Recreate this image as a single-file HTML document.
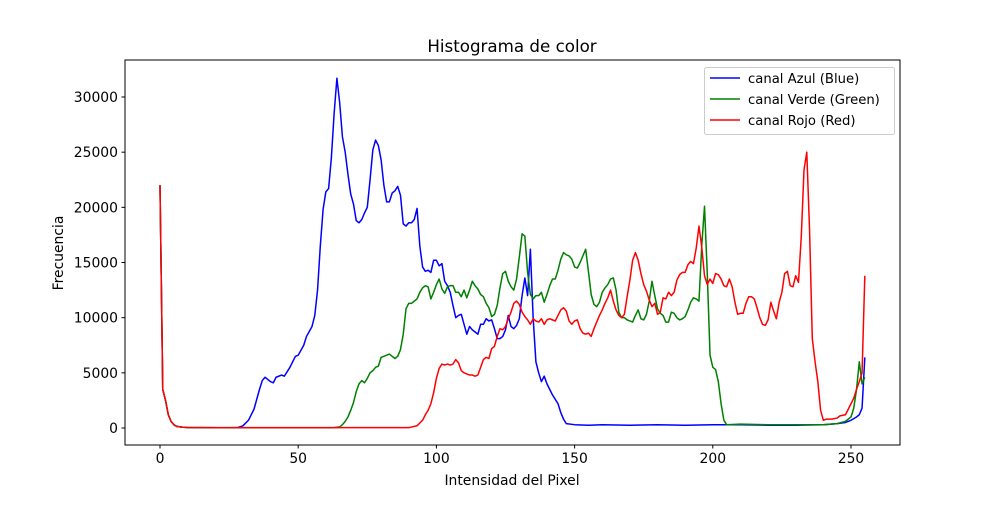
<!DOCTYPE html>
<html><head><meta charset="utf-8"><style>
body{margin:0;background:#fff}
svg text{font-family:"DejaVu Sans",sans-serif;fill:#000}
</style></head><body>
<svg id="s" width="1000" height="500" xmlns="http://www.w3.org/2000/svg">
<rect width="1000" height="500" fill="#fff"/>
<g id="plot"></g>
<rect x="125" y="60" width="775" height="385" fill="none" stroke="#000" stroke-width="1"/>
<g id="ticks" font-size="13.9"></g>
<text x="512" y="52" text-anchor="middle" font-size="16.7">Histograma de color</text>
<text x="512" y="485" text-anchor="middle" font-size="13.9">Intensidad del Pixel</text>
<text transform="translate(63,253) rotate(-90)" text-anchor="middle" font-size="13.9">Frecuencia</text>
<rect x="704.5" y="67.5" width="190" height="67" fill="#fff" fill-opacity="0.8" stroke="#ccc" rx="2"/>
<line x1="710" y1="78" x2="740" y2="78" stroke="#0000ff" stroke-width="1.5"/>
<line x1="710" y1="99" x2="740" y2="99" stroke="#008000" stroke-width="1.5"/>
<line x1="710" y1="120" x2="740" y2="120" stroke="#ff0000" stroke-width="1.5"/>
<text x="748" y="83" font-size="13.2">canal Azul (Blue)</text>
<text x="748" y="104" font-size="13.2">canal Verde (Green)</text>
<text x="748" y="125" font-size="13.2">canal Rojo (Red)</text>
</svg>
<script>
function X(v){return 160+v*2.764}
function Y(v){return 428-v*0.011033}
const B={0:22000,1:3500,2:2500,3:1200,4:600,5:300,6:150,8:80,10:50,15:30,20:20,25:20,28:30,30:200,32:700,34:1700,36:3500,37:4300,38:4600,40:4200,41:4100,42:4600,44:4800,45:4700,47:5500,49:6500,50:6600,52:7500,53:8300,55:9200,56:10200,57:12500,58:16500,59:19800,60:21400,61:21700,62:24500,63:28500,64:31700,65:29500,66:26400,67:25000,68:23000,69:21200,70:20300,71:18800,72:18600,73:18900,74:19500,75:20000,76:22500,77:25200,78:26100,79:25600,80:24300,81:22000,82:20500,83:20500,84:21300,85:21500,86:21900,87:21100,88:18500,89:18300,90:18600,91:18600,92:18900,93:19900,94:16500,95:14600,96:14200,97:14300,98:14100,99:15200,100:15200,101:14700,102:14900,103:13300,104:12900,105:12300,106:11100,107:10000,108:10200,109:10300,110:9400,111:8500,112:9200,113:8900,114:8700,115:8500,116:9400,117:9400,118:9900,119:9700,120:9800,121:9000,122:8100,123:8100,124:8300,125:8900,126:10200,127:9200,128:9000,129:9300,130:9900,131:12000,132:13600,133:12000,134:16200,135:10000,136:6000,137:5000,138:4200,139:4700,140:4000,141:3500,142:3000,143:2600,144:2200,145:1400,146:800,147:400,150:300,155:250,160:300,170:250,180:300,190:250,200:300,210:300,220:250,230:250,240:300,245:400,248:500,250:700,252:1000,253:1200,254:1800,255:6400};
const G={0:22000,1:3500,2:2500,3:1200,4:600,5:300,6:150,8:80,10:50,20:20,60:20,63:30,65:100,66:300,67:600,68:1000,69:1600,70:2300,71:3300,72:4000,73:4300,74:4100,75:4500,76:5000,77:5200,78:5500,79:5600,80:6400,81:6500,82:6600,83:6700,84:6500,85:6300,86:6500,87:7100,88:8500,89:10800,90:11300,91:11300,92:11500,93:11700,94:12300,95:12700,96:12900,97:12800,98:11700,99:12300,100:13000,101:13500,102:12600,103:12200,104:12800,105:12900,106:12900,107:12300,108:12300,109:11900,110:12500,111:11800,112:12500,113:13300,114:12900,115:12600,116:12100,117:11900,118:11300,119:10900,120:10100,121:10300,122:11100,123:12700,124:14000,125:14200,126:13300,127:12800,128:12500,129:13500,130:15500,131:17600,132:17400,133:14100,134:12100,135:11700,136:12000,137:12000,138:12300,139:11400,140:12100,141:12900,142:13500,143:13500,144:14300,145:15300,146:15900,147:15700,148:15600,149:15300,150:14600,151:14500,152:15000,153:15600,154:16200,155:14200,156:12100,157:11200,158:11000,159:11400,160:12300,161:12700,162:13000,163:13500,164:13600,165:12500,166:10500,167:10000,168:10000,169:9800,170:9700,171:9600,172:10200,173:10700,174:9900,175:9800,176:10300,177:11500,178:13300,179:12000,180:10800,181:10400,182:10200,183:9600,184:9600,185:10500,186:10400,187:10000,188:9800,189:9900,190:10100,191:10700,192:11400,193:11800,194:11700,195:11500,196:16500,197:20100,198:14000,199:6600,200:5500,201:5300,202:4200,203:2200,204:700,205:300,210:350,220:300,230:300,240:300,245:400,248:600,250:1000,251:1800,252:3500,253:6000,254:4000,255:4600};
const R={0:22000,1:3500,2:2500,3:1200,4:600,5:300,6:150,8:80,10:50,20:30,90:30,93:200,95:700,96:1200,97:1600,98:2200,99:3200,100:4500,101:5400,102:5800,103:5700,104:5800,105:5700,106:5800,107:6200,108:5900,109:5200,110:5000,111:4900,112:4800,113:4800,114:4700,115:4800,116:5500,117:6200,118:6400,119:6300,120:7200,121:7400,122:8300,123:9000,124:8900,125:9200,126:9900,127:10500,128:11300,129:11500,130:11200,131:10500,132:10100,133:9800,134:9400,135:9900,136:9700,137:9600,138:9900,139:9400,140:9800,141:9900,142:9800,143:9700,144:10200,145:10700,146:10900,147:10600,148:9700,149:9400,150:9700,151:9800,152:9000,153:8600,154:8500,155:8600,156:8300,157:9000,158:9600,159:10200,160:10700,161:11300,162:11800,163:12500,164:11500,165:10700,166:10200,167:10000,168:10300,169:11900,170:13400,171:15200,172:15900,173:15200,174:14000,175:13000,176:12400,177:11600,178:11000,179:11300,180:10300,181:10500,182:11800,183:11700,184:12300,185:12000,186:12300,187:13400,188:13900,189:14100,190:14100,191:14800,192:15100,193:14900,194:16300,195:18300,196:16400,197:13800,198:13000,199:13500,200:13100,201:14000,202:13900,203:13500,204:12900,205:12800,206:13500,207:12800,208:11400,209:10300,210:10400,211:10400,212:11300,213:11900,214:11900,215:11700,216:10900,217:10000,218:9400,219:9300,220:9800,221:11400,222:10600,223:9900,224:11400,225:12300,226:14000,227:14200,228:12900,229:12800,230:13800,231:13200,232:17300,233:23400,234:25000,235:18000,236:8100,237:6000,238:4200,239:1600,240:700,241:800,243:800,245:900,246:1100,248:1200,249:1700,250:2200,251:2700,252:3500,253:4200,254:5000,255:13800};
const NS="http://www.w3.org/2000/svg";
function line(d,c){const p=document.createElementNS(NS,"polyline");
p.setAttribute("points",Object.keys(d).map(Number).sort((a,b)=>a-b).map(k=>X(k).toFixed(2)+","+Y(d[k]).toFixed(2)).join(" "));
p.setAttribute("fill","none");p.setAttribute("stroke",c);p.setAttribute("stroke-width","1.5");p.setAttribute("stroke-linejoin","round");
document.getElementById("plot").appendChild(p);}
line(B,"#0000ff");line(G,"#008000");line(R,"#ff0000");
const t=document.getElementById("ticks");let h="";
for(let v=0;v<=250;v+=50){const x=X(v);h+=`<line x1="${x}" y1="445" x2="${x}" y2="448.5" stroke="#000"/><text x="${x}" y="463" text-anchor="middle">${v}</text>`;}
for(let v=0;v<=30000;v+=5000){const y=Y(v);h+=`<line x1="121.5" y1="${y}" x2="125" y2="${y}" stroke="#000"/><text x="118" y="${y+5}" text-anchor="end">${v}</text>`;}
t.innerHTML=h;
</script>
</body></html>
